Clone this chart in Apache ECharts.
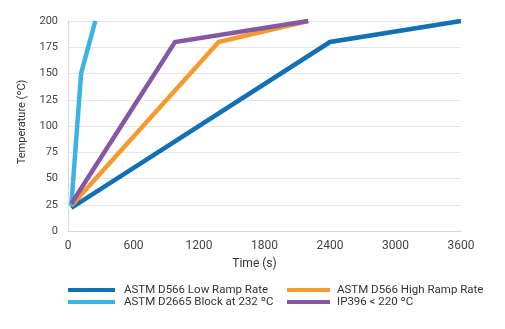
<!DOCTYPE html>
<html><head><meta charset="utf-8">
<script src="https://cdn.jsdelivr.net/npm/echarts@6/dist/echarts.min.js"></script>
<style>html,body{margin:0;padding:0;background:#fff}#c{width:505px;height:329px}</style>
</head><body><div id="c"></div>
<script>
var seriesNames = ['ASTM D566 Low Ramp Rate', 'ASTM D566 High Ramp Rate', 'ASTM D2665 Block at 232 ºC', 'IP396 < 220 ºC'];
var lowTime = [30, 2400, 3600];
var lowTemp = [22, 180, 200];
var highTime = [30, 1380, 2200];
var highTemp = [24, 180, 200];
var blockTime = [30, 120, 250];
var blockTemp = [24, 150, 200];
var ipTime = [30, 980, 2200];
var ipTemp = [26, 180, 200];
var colors = ['#1270b4', '#f59a2c', '#3bb3e3', '#8558a4'];
var xTicks = [0, 600, 1200, 1800, 2400, 3000, 3600];
var yTicks = [0, 25, 50, 75, 100, 125, 150, 175, 200];

function pairs(t, v) { return t.map(function (x, i) { return [x, v[i]]; }); }
var font = 'Roboto, "Liberation Sans", sans-serif';
var chart = echarts.init(document.getElementById('c'));
var data = [pairs(lowTime, lowTemp), pairs(highTime, highTemp), pairs(blockTime, blockTemp), pairs(ipTime, ipTemp)];
chart.setOption({
  animation: false,
  textStyle: { fontFamily: font },
  grid: { left: 68, right: 44, top: 21, bottom: 98 },
  xAxis: {
    type: 'value', min: xTicks[0], max: xTicks[xTicks.length - 1], interval: 600,
    name: 'Time (s)', nameLocation: 'middle', nameGap: 27,
    nameTextStyle: { color: '#333', fontSize: 12, fontFamily: font, padding: [0, 20, 0, 0] },
    axisLine: { show: true, lineStyle: { color: '#d9d9d9' } },
    axisTick: { show: false },
    axisLabel: { color: '#444', fontSize: 12, margin: 9, fontFamily: font, formatter: function (v) { return String(v); } },
    splitLine: { show: false }
  },
  yAxis: {
    type: 'value', min: yTicks[0], max: yTicks[yTicks.length - 1], interval: 25,
    name: 'Temperature (ºC)', nameLocation: 'middle', nameGap: 40,
    nameTextStyle: { color: '#333', fontSize: 11, fontFamily: font, padding: [0, 0, 0, 8] },
    axisLine: { show: true, lineStyle: { color: '#d9d9d9' } },
    axisTick: { show: false },
    axisLabel: { color: '#444', fontSize: 11, margin: 10, fontFamily: font },
    splitLine: { show: true, lineStyle: { color: '#e6e6e6', width: 1 } }
  },
  legend: [
    { left: 68, top: 284, padding: 0, orient: 'vertical', icon: 'rect', itemWidth: 47, itemHeight: 4, itemGap: 0,
      data: [seriesNames[0], seriesNames[2]],
      textStyle: { color: '#333', fontSize: 11.5, lineHeight: 12, fontFamily: font, padding: [0, 0, 0, 4] } },
    { left: 287, top: 284, padding: 0, orient: 'vertical', icon: 'rect', itemWidth: 43, itemHeight: 4, itemGap: 0,
      data: [seriesNames[1], seriesNames[3]],
      textStyle: { color: '#333', fontSize: 11.5, lineHeight: 12, fontFamily: font, padding: [0, 0, 0, 2] } }
  ],
  series: seriesNames.map(function (n, i) {
    return { name: n, type: 'line', data: data[i], symbol: 'none', color: colors[i],
      lineStyle: { width: 4.5, color: colors[i], join: 'miter' }, z: 2 + i };
  })
});
</script></body></html>
